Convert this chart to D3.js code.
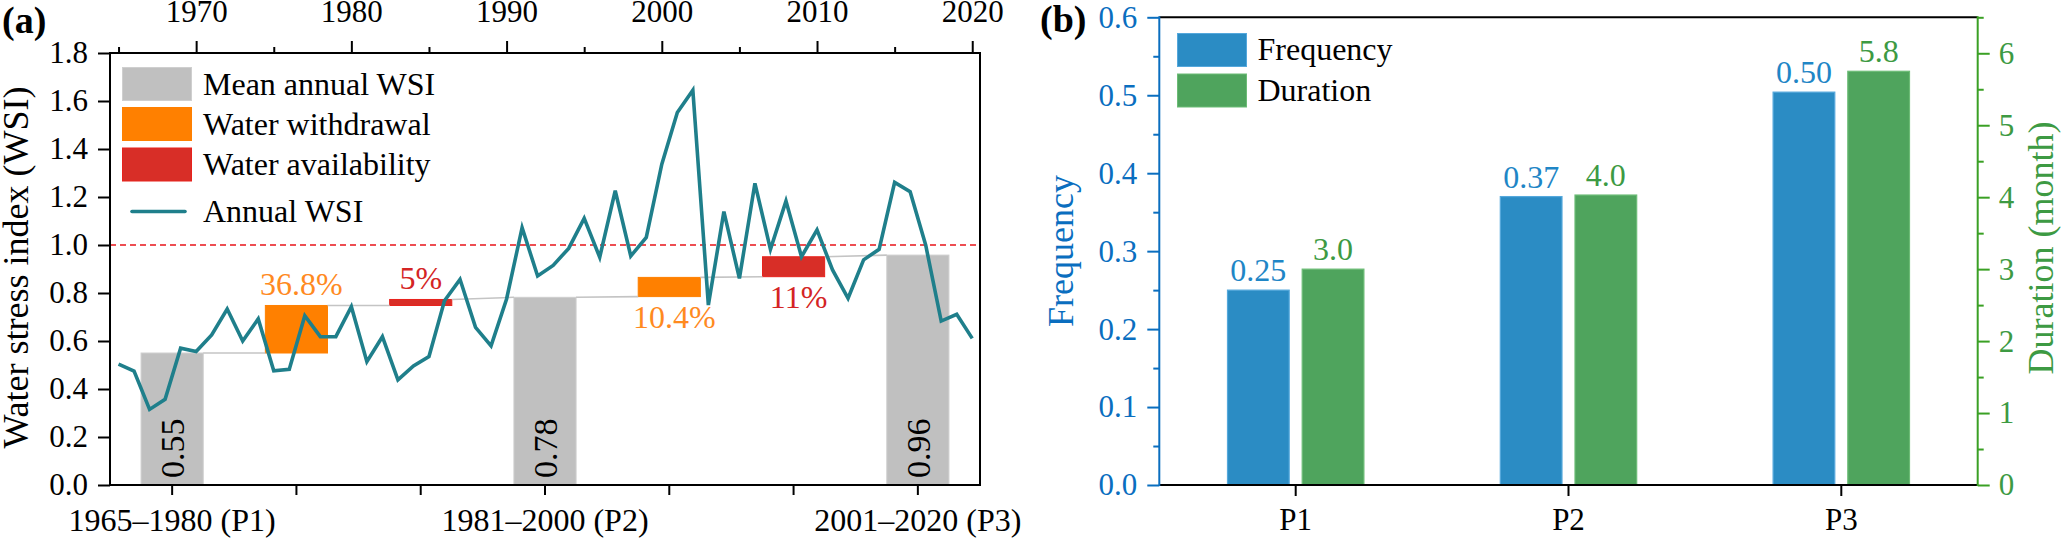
<!DOCTYPE html>
<html><head><meta charset="utf-8">
<script src="https://cdn.jsdelivr.net/npm/d3@7"></script>
<style>
body{margin:0;background:#fff}
svg{display:block}
text{font-family:"Liberation Serif","Times New Roman",serif}
</style>
</head><body>
<svg id="c" width="2067" height="541"></svg>
<script>
// ---------------- DATA ----------------
const years = [1965,1966,1967,1968,1969,1970,1971,1972,1973,1974,1975,1976,1977,1978,1979,1980,
  1981,1982,1983,1984,1985,1986,1987,1988,1989,1990,1991,1992,1993,1994,1995,1996,1997,1998,1999,2000,
  2001,2002,2003,2004,2005,2006,2007,2008,2009,2010,2011,2012,2013,2014,2015,2016,2017,2018,2019,2020];
const annualWSI = [0.504,0.475,0.315,0.357,0.570,0.556,0.625,0.733,0.600,0.692,0.476,0.482,0.705,0.618,0.618,0.743,
  0.514,0.618,0.438,0.496,0.535,0.768,0.857,0.657,0.580,0.775,1.072,0.871,0.915,0.986,1.111,0.949,1.226,0.954,1.032,1.337,
  1.552,1.645,0.750,1.139,0.861,1.257,0.982,1.183,0.951,1.063,0.896,0.778,0.938,0.982,1.261,1.222,1.000,0.683,0.711,0.611];
const topYearTicks = [1970,1980,1990,2000,2010,2020];
const topYearMinor = [1965,1975,1985,1995,2005,2015];
const wsiTicks = [0,0.2,0.4,0.6,0.8,1.0,1.2,1.4,1.6,1.8];
const threshold = 1.0;

const stepType  = ["mean","withdrawal","availability","mean","withdrawal","availability","mean"];
const stepStart = [0,0.55,0.748,0,0.785,0.868,0];
const stepEnd   = [0.55,0.748,0.773,0.782,0.865,0.951,0.958];
const stepText  = ["0.55","36.8%","5%","0.78","10.4%","11%","0.96"];
const periodAxisLabels = ["1965\u20131980 (P1)","","","1981\u20132000 (P2)","","","2001\u20132020 (P3)"];
const legendA = ["Mean annual WSI","Water withdrawal","Water availability","Annual WSI"];

const periods = ["P1","P2","P3"];
const frequency = [0.25,0.37,0.504];
const duration = [3.0,4.03,5.75];
const frequencyText = ["0.25","0.37","0.50"];
const durationText = ["3.0","4.0","5.8"];
const freqTicks = [0,0.1,0.2,0.3,0.4,0.5,0.6];
const freqMinor = [0.05,0.15,0.25,0.35,0.45,0.55];
const durTicks = [0,1,2,3,4,5,6];
const durMinor = [0.5,1.5,2.5,3.5,4.5,5.5,6.5];
const seriesB = ["Frequency","Duration"];

// ---------------- STYLE ----------------
const C = {
  gray:"#c0c0c0", grayS:"#cfcfcf", orange:"#ff8000", orangeT:"#ff8a1f", red:"#d82e27", redS:"#e8221c", redT:"#d42424",
  teal:"#1f7f8b", dash:"#e8141a",
  blue:"#2b8cc4", blueS:"#55a8dc", blueT:"#1f86c6", blueAx:"#0a6ebf",
  green:"#4fa45d", greenS:"#6cbc76", greenT:"#3d9a43", greenAx:"#3aa024"
};
const svg = d3.select("#c");

// ================= PANEL A =================
const A = {l:110, r:980, t:53, b:485};
const xYear = d3.scaleLinear().domain([1964.45, 2020.5]).range([A.l, A.r]);
const yA = d3.scaleLinear().domain([0, 1.8]).range([A.b, A.t]);
const xStep = d3.scaleBand().domain(d3.range(stepType.length)).range([A.l, A.r]).paddingInner(0.5).paddingOuter(0.25);
const fillOf = t => t==="mean"?C.gray:(t==="withdrawal"?C.orange:C.red);
const strokeOf = t => t==="mean"?C.grayS:(t==="withdrawal"?C.orange:C.redS);

const gA = svg.append("g");
// threshold
gA.append("line").attr("x1",A.l).attr("x2",A.r).attr("y1",yA(threshold)).attr("y2",yA(threshold))
  .attr("stroke",C.dash).attr("stroke-width",1.6).attr("stroke-dasharray","6,4");

// waterfall bars
gA.selectAll("rect.step").data(stepType).join("rect").attr("class","step")
  .attr("x",(d,i)=>xStep(i)).attr("width",xStep.bandwidth())
  .attr("y",(d,i)=>yA(stepEnd[i])).attr("height",(d,i)=>yA(stepStart[i])-yA(stepEnd[i]))
  .attr("fill",d=>fillOf(d)).attr("stroke",d=>strokeOf(d)).attr("stroke-width",1);

// connectors
const conn = d3.range(stepType.length-1);
gA.selectAll("line.conn").data(conn).join("line").attr("class","conn")
  .attr("x1",i=>xStep(i)+xStep.bandwidth()).attr("y1",i=>yA(stepEnd[i]))
  .attr("x2",i=>xStep(i+1)).attr("y2",i=>yA(stepType[i+1]==="mean"?stepEnd[i+1]:stepStart[i+1]))
  .attr("stroke","#c4c4c4").attr("stroke-width",1.6);

// labels
stepType.forEach((t,i)=>{
  const cx = xStep(i)+xStep.bandwidth()/2;
  if(t==="mean"){
    gA.append("text").attr("transform",`translate(${cx},${yA(0)-7}) rotate(-90)`)
      .attr("dy","0.35em").attr("text-anchor","start").attr("font-size",34).attr("fill","#000").text(stepText[i]);
  } else {
    const firstPeriod = i < 3;
    const col = t==="withdrawal"?C.orangeT:C.redT;
    const y = firstPeriod ? yA(stepEnd[i]) - 10 : yA(stepStart[i]) + 31;
    gA.append("text").attr("x",cx + (stepText[i].length>2?5:0)).attr("y",y).attr("text-anchor","middle")
      .attr("font-size",32).attr("fill",col).text(stepText[i]);
  }
});

// annual line
const line = d3.line().x((d,i)=>xYear(years[i])).y(d=>yA(d));
gA.append("path").datum(annualWSI).attr("d",line).attr("fill","none")
  .attr("stroke",C.teal).attr("stroke-width",3.6).attr("stroke-linejoin","miter");

// axes
const axL = gA.append("g").attr("transform",`translate(${A.l},0)`)
  .call(d3.axisLeft(yA).tickValues(wsiTicks).tickFormat(d3.format(".1f")).tickSize(12).tickPadding(10).tickSizeOuter(0));
const axT = gA.append("g").attr("transform",`translate(0,${A.t})`)
  .call(d3.axisTop(xYear).tickValues(topYearTicks).tickFormat(d3.format("d")).tickSize(12).tickPadding(19).tickSizeOuter(0));
const axTm = gA.append("g").attr("transform",`translate(0,${A.t})`)
  .call(d3.axisTop(xYear).tickValues(topYearMinor).tickFormat("").tickSize(6).tickSizeOuter(0));
const axB = gA.append("g").attr("transform",`translate(0,${A.b})`)
  .call(d3.axisBottom(xStep).tickFormat(i=>periodAxisLabels[i]).tickSize(10).tickPadding(13).tickSizeOuter(0));
[axL,axT,axTm,axB].forEach(g=>{
  g.selectAll("path.domain").remove();
  g.selectAll("line").attr("stroke","#000").attr("stroke-width",2);
  g.selectAll("text").attr("font-size",31).attr("fill","#000").attr("font-family",'"Liberation Serif","Times New Roman",serif');
});
axB.selectAll("text").attr("font-size",32);
// frame
gA.append("rect").attr("x",A.l).attr("y",A.t).attr("width",A.r-A.l).attr("height",A.b-A.t)
  .attr("fill","none").attr("stroke","#000").attr("stroke-width",2);

// legend A
const legA = gA.append("g");
const sw = [C.gray,C.orange,C.red];
const swS = [C.grayS,C.orange,C.redS];
const swY = [67.5,107.5,148];
sw.forEach((c,i)=>{
  legA.append("rect").attr("x",122.5).attr("y",swY[i]).attr("width",69).attr("height",33)
    .attr("fill",c).attr("stroke",swS[i]).attr("stroke-width",1);
});
legA.append("line").attr("x1",132).attr("x2",185).attr("y1",211.5).attr("y2",211.5)
  .attr("stroke",C.teal).attr("stroke-width",3.6).attr("stroke-linecap","round");
const legAY = [94.5,134.5,174.5,221.5];
legendA.forEach((t,i)=>{
  legA.append("text").attr("x",203).attr("y",legAY[i]).attr("font-size",32).attr("fill","#000").text(t);
});

// title + panel label
gA.append("text").attr("transform","translate(28,267.5) rotate(-90)").attr("text-anchor","middle")
  .attr("font-size",36).attr("fill","#000").text("Water stress index (WSI)");
svg.append("text").attr("x",2).attr("y",33).attr("font-size",38).attr("font-weight","bold").attr("fill","#000").text("(a)");

// ================= PANEL B =================
const B = {l:1159.3, r:1977.7, t:17.3, b:485};
const xP = d3.scaleBand().domain(periods).range([B.l, B.r]).padding(0);
const xS = d3.scaleBand().domain(seriesB).range([-68.2, 68.2]).paddingInner(0.174).paddingOuter(0);
const yF = d3.scaleLinear().domain([0, 0.6]).range([B.b, B.t]);
const yD = d3.scaleLinear().domain([0, 6.5]).range([B.b, B.t]);
const gB = svg.append("g");

const center = p => xP(p) + xP.bandwidth()/2;
gB.selectAll("rect.freq").data(frequency).join("rect").attr("class","freq")
  .attr("x",(d,i)=>center(periods[i])+xS("Frequency")).attr("width",xS.bandwidth())
  .attr("y",d=>yF(d)).attr("height",d=>yF(0)-yF(d))
  .attr("fill",C.blue).attr("stroke",C.blueS).attr("stroke-width",1.2);
gB.selectAll("rect.dur").data(duration).join("rect").attr("class","dur")
  .attr("x",(d,i)=>center(periods[i])+xS("Duration")).attr("width",xS.bandwidth())
  .attr("y",d=>yD(d)).attr("height",d=>yD(0)-yD(d))
  .attr("fill",C.green).attr("stroke",C.greenS).attr("stroke-width",1.2);
gB.selectAll("text.ft").data(frequency).join("text").attr("class","ft")
  .attr("x",(d,i)=>center(periods[i])+xS("Frequency")+xS.bandwidth()/2).attr("y",d=>yF(d)-9)
  .attr("text-anchor","middle").attr("font-size",32).attr("fill",C.blueT).text((d,i)=>frequencyText[i]);
gB.selectAll("text.dt").data(duration).join("text").attr("class","dt")
  .attr("x",(d,i)=>center(periods[i])+xS("Duration")+xS.bandwidth()/2).attr("y",d=>yD(d)-9)
  .attr("text-anchor","middle").attr("font-size",32).attr("fill",C.greenT).text((d,i)=>durationText[i]);

// frame lines
gB.append("line").attr("x1",B.l).attr("x2",B.r).attr("y1",B.t).attr("y2",B.t).attr("stroke","#000").attr("stroke-width",2);
gB.append("line").attr("x1",B.l).attr("x2",B.r).attr("y1",B.b).attr("y2",B.b).attr("stroke","#000").attr("stroke-width",2);
gB.append("line").attr("x1",B.l).attr("x2",B.l).attr("y1",B.t-1).attr("y2",B.b+1).attr("stroke",C.blueAx).attr("stroke-width",2);
gB.append("line").attr("x1",B.r).attr("x2",B.r).attr("y1",B.t-1).attr("y2",B.b+1).attr("stroke",C.greenAx).attr("stroke-width",2);

const bL = gB.append("g").attr("transform",`translate(${B.l},0)`)
  .call(d3.axisLeft(yF).tickValues(freqTicks).tickFormat(d3.format(".1f")).tickSize(12).tickPadding(10).tickSizeOuter(0));
const bLm = gB.append("g").attr("transform",`translate(${B.l},0)`)
  .call(d3.axisLeft(yF).tickValues(freqMinor).tickFormat("").tickSize(6).tickSizeOuter(0));
const bR = gB.append("g").attr("transform",`translate(${B.r},0)`)
  .call(d3.axisRight(yD).tickValues(durTicks).tickFormat(d3.format("d")).tickSize(12).tickPadding(9).tickSizeOuter(0));
const bRm = gB.append("g").attr("transform",`translate(${B.r},0)`)
  .call(d3.axisRight(yD).tickValues(durMinor).tickFormat("").tickSize(6).tickSizeOuter(0));
const bB = gB.append("g").attr("transform",`translate(0,${B.b})`)
  .call(d3.axisBottom(xP).tickSize(11).tickPadding(12).tickSizeOuter(0));
[[bL,C.blueAx,C.blueAx],[bLm,C.blueAx,C.blueAx],[bR,C.greenAx,C.greenT],[bRm,C.greenAx,C.greenT],[bB,"#000","#000"]].forEach(([g,lc,tc])=>{
  g.selectAll("path.domain").remove();
  g.selectAll("line").attr("stroke",lc).attr("stroke-width",2);
  g.selectAll("text").attr("font-size",31).attr("fill",tc).attr("font-family",'"Liberation Serif","Times New Roman",serif');
});

// legend B
const legB = gB.append("g");
[[C.blue,C.blueS],[C.green,C.greenS]].forEach((c,i)=>{
  legB.append("rect").attr("x",1177.5).attr("y",[33.5,74][i]).attr("width",69).attr("height",33)
    .attr("fill",c[0]).attr("stroke",c[1]).attr("stroke-width",1);
  legB.append("text").attr("x",1257.5).attr("y",[60,100.5][i]).attr("font-size",32).attr("fill","#000").text(seriesB[i]);
});

// titles
gB.append("text").attr("transform","translate(1073,251) rotate(-90)").attr("text-anchor","middle")
  .attr("font-size",36).attr("fill",C.blueAx).text("Frequency");
gB.append("text").attr("transform","translate(2053,248) rotate(-90)").attr("text-anchor","middle")
  .attr("font-size",36).attr("fill",C.greenT).text("Duration (month)");
svg.append("text").attr("x",1040).attr("y",32).attr("font-size",38).attr("font-weight","bold").attr("fill","#000").text("(b)");
</script>
</body></html>
